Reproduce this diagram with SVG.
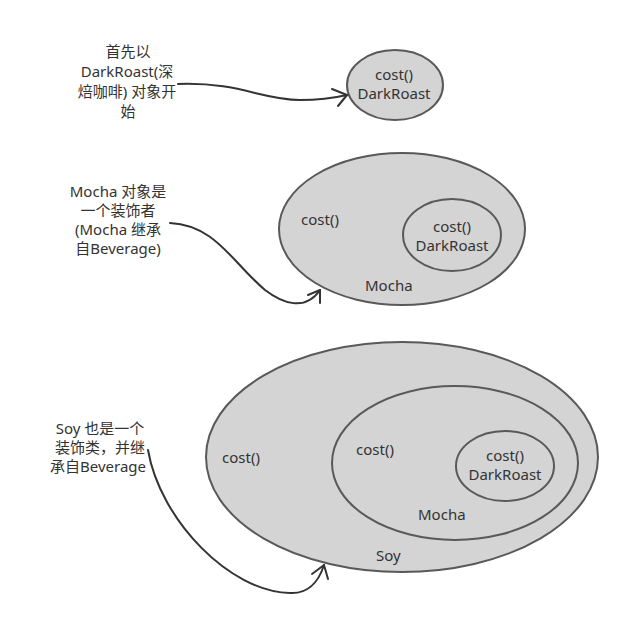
<svg xmlns="http://www.w3.org/2000/svg" width="635" height="633" viewBox="0 0 635 633">
<style>
.n{fill:#d4d4d4;stroke:#595959;stroke-width:2}
.t{font-family:"Noto Sans","Noto Sans CJK SC",sans-serif;font-size:15px;fill:#333}
.m{text-anchor:middle}
.c{fill:none;stroke:#333;stroke-width:2;stroke-linecap:round;stroke-linejoin:round}
</style>
<rect width="635" height="633" fill="#fff"/>
<g id="note1">
<text class="t m" x="128" y="57">首先以</text>
<text class="t m" x="127" y="77">DarkRoast(深</text>
<text class="t m" x="127" y="97">焙咖啡) 对象开</text>
<text class="t m" x="128" y="117">始</text>
</g>
<g id="note2">
<text class="t m" x="118" y="197">Mocha 对象是</text>
<text class="t m" x="118" y="216">一个装饰者</text>
<text class="t m" x="118" y="235">(Mocha 继承</text>
<text class="t m" x="118" y="254">自Beverage)</text>
</g>
<g id="note3">
<text class="t m" x="100" y="434">Soy 也是一个</text>
<text class="t m" x="100" y="453">装饰类，并继</text>
<text class="t m" x="98" y="472">承自Beverage</text>
</g>
<g id="darkroast1">
<ellipse class="n" cx="395" cy="85" rx="48" ry="35"/>
<text class="t m" x="394" y="80">cost()</text>
<text class="t m" x="394" y="99">DarkRoast</text>
</g>
<g id="mocha2">
<ellipse class="n" cx="402" cy="229" rx="123" ry="76"/>
<text class="t" x="301" y="225">cost()</text>
<text class="t" x="365" y="291">Mocha</text>
<g id="darkroast2">
<ellipse class="n" cx="452" cy="235" rx="49" ry="36"/>
<text class="t m" x="452" y="232">cost()</text>
<text class="t m" x="452" y="251">DarkRoast</text>
</g>
</g>
<g id="soy3">
<ellipse class="n" cx="402" cy="457" rx="196" ry="115"/>
<text class="t" x="222" y="463">cost()</text>
<text class="t" x="376" y="561">Soy</text>
<g id="mocha3">
<ellipse class="n" cx="455" cy="463" rx="123" ry="77"/>
<text class="t" x="356" y="455">cost()</text>
<text class="t" x="418" y="520">Mocha</text>
<g id="darkroast3">
<ellipse class="n" cx="505" cy="466" rx="49" ry="35"/>
<text class="t m" x="505" y="461">cost()</text>
<text class="t m" x="505" y="480">DarkRoast</text>
</g>
</g>
</g>
<g id="connectors">
<path class="c" d="M178,84 C240,82 262,100 300,100 C320,100 334,98 347,95"/>
<path class="c" d="M332,89 L347,95 L338,106"/>
<path class="c" d="M170,223 C215,225 232,262 265,290 C282,303 305,312 320,290"/>
<path class="c" d="M308,295 L320,290 L320,303"/>
<path class="c" d="M148,450 C160,520 230,592 290,593 C306,594 318,584 324,565"/>
<path class="c" d="M312,574 L324,565 L328,579"/>
</g>
</svg>
